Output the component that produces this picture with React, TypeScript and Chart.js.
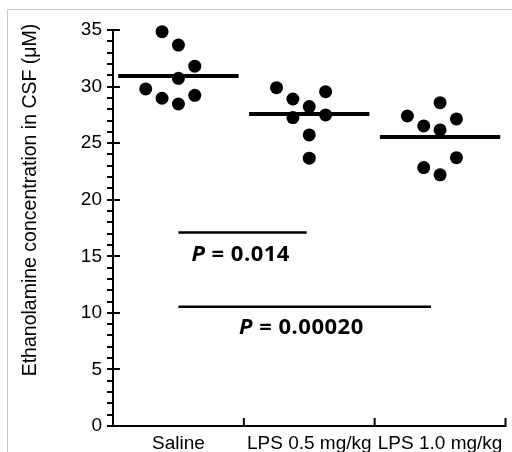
import React, { useEffect, useRef } from 'react';
import { Chart, registerables } from 'chart.js';

Chart.register(...registerables);

// ---- data ----
const categories = ['Saline', 'LPS 0.5 mg/kg', 'LPS 1.0 mg/kg'];
const salineValues = [34.85, 33.67, 31.8, 30.73, 29.79, 29.23, 28.97, 28.46];
const lps05Values = [29.9, 28.9, 29.55, 28.23, 27.26, 27.49, 25.73, 23.67];
const lps10Values = [27.4, 28.58, 26.52, 27.14, 26.17, 23.72, 22.84, 22.2];
// column slot of each dot inside its group (dot-plot spreading)
const salineSlots = [-1, 0, 1, 0, -2, 1, -1, 0];
const lps05Slots = [-2, -1, 1, 0, -1, 1, 0, 0];
const lps10Slots = [-2, 0, -1, 1, 0, 1, -1, 0];
const groupMeans = [30.94, 27.58, 25.55];
const yTickValues = [0, 5, 10, 15, 20, 25, 30, 35];
const pValues = ['0.014', '0.00020'];
const pBarLevels = [17.1, 10.55];
const pBarStart = [0, 0];
const pBarEnd = [0.98, 1.93];

const yTitle = 'Ethanolamine concentration in CSF (\u03BCM)';

// ---- layout constants (not data) ----
const SLOT = 0.125;
const MEAN_HALF = 0.46;
const P_TEXT_X = [0.476, 0.94];
const P_TEXT_Y = [15.11, 8.66];

const groups = [
  { values: salineValues, slots: salineSlots },
  { values: lps05Values, slots: lps05Slots },
  { values: lps10Values, slots: lps10Slots },
];

const decorPlugin = {
  id: 'decor',
  beforeDraw(chart: any) {
    const ctx = chart.ctx;
    ctx.save();
    ctx.strokeStyle = '#c8c8c8';
    ctx.lineWidth = 1;
    ctx.beginPath();
    ctx.moveTo(7.5, 452);
    ctx.lineTo(7.5, 9.5);
    ctx.lineTo(512, 9.5);
    ctx.stroke();
    ctx.restore();
  },
  afterDraw(chart: any) {
    const ctx = chart.ctx;
    const xs = chart.scales.x;
    const ys = chart.scales.y;
    const left = chart.chartArea.left;
    const bottom = chart.chartArea.bottom;
    ctx.save();
    ctx.strokeStyle = '#000';
    ctx.lineWidth = 2;
    ctx.lineCap = 'butt';
    // y minor / major ticks
    for (let v = 0; v <= 35; v++) {
      const py = Math.round(ys.getPixelForValue(v));
      ctx.beginPath();
      if (yTickValues.includes(v)) {
        ctx.moveTo(left - 6, py);
        ctx.lineTo(left + 7, py);
      } else {
        ctx.moveTo(left - 6, py);
        ctx.lineTo(left, py);
      }
      ctx.stroke();
    }
    // x boundary ticks (pointing up)
    for (let i = 0; i < categories.length; i++) {
      const px = xs.getPixelForValue(i + 0.5);
      ctx.beginPath();
      ctx.moveTo(px, bottom + 1);
      ctx.lineTo(px, bottom - 8);
      ctx.stroke();
    }
    // P value texts
    ctx.fillStyle = '#000';
    ctx.textBaseline = 'middle';
    ctx.textAlign = 'left';
    try {
      (ctx as any).letterSpacing = '0.5px';
    } catch (e) {}
    for (let i = 0; i < pValues.length; i++) {
      const cx = xs.getPixelForValue(P_TEXT_X[i]);
      const cy = ys.getPixelForValue(P_TEXT_Y[i]);
      const italicFont = 'italic bold 22px "Open Sans"';
      const boldFont = 'bold 22px "Open Sans"';
      ctx.font = italicFont;
      const w1 = ctx.measureText('P').width;
      ctx.font = boldFont;
      const rest = ' = ' + pValues[i];
      const w2 = ctx.measureText(rest).width;
      const x0 = cx - (w1 + w2) / 2;
      ctx.font = italicFont;
      ctx.fillText('P', x0, cy);
      ctx.font = boldFont;
      ctx.fillText(rest, x0 + w1, cy);
    }
    try {
      (ctx as any).letterSpacing = '0px';
    } catch (e) {}
    // y title
    ctx.translate(31, 200);
    ctx.rotate(-Math.PI / 2);
    ctx.textAlign = 'center';
    ctx.textBaseline = 'middle';
    ctx.font = '19.5px "Liberation Sans", Arial, sans-serif';
    ctx.fillText(yTitle, 0, 0);
    ctx.restore();
  },
};

export default function App() {
  const canvasRef = useRef<HTMLCanvasElement | null>(null);

  useEffect(() => {
    const prevMargin = document.body.style.margin;
    document.body.style.margin = '0';
    const canvas = canvasRef.current;
    if (!canvas) return;

    const datasets: any[] = [];
    groups.forEach((g, gi) => {
      datasets.push({
        label: categories[gi],
        data: g.values.map((v, k) => ({ x: gi + g.slots[k] * SLOT, y: v })),
        backgroundColor: '#000',
        borderColor: '#000',
        borderWidth: 0,
        pointRadius: 6.5,
        pointHoverRadius: 6.5,
        showLine: false,
        clip: false,
      });
    });
    groupMeans.forEach((m, gi) => {
      datasets.push({
        label: 'mean ' + categories[gi],
        data: [
          { x: gi - MEAN_HALF, y: m },
          { x: gi + MEAN_HALF, y: m },
        ],
        borderColor: '#000',
        borderWidth: 4,
        pointRadius: 0,
        showLine: true,
        borderCapStyle: 'butt',
        clip: false,
      });
    });
    pBarLevels.forEach((lvl, i) => {
      datasets.push({
        label: 'P bar ' + i,
        data: [
          { x: pBarStart[i], y: lvl },
          { x: pBarEnd[i], y: lvl },
        ],
        borderColor: '#000',
        borderWidth: 2.5,
        pointRadius: 0,
        showLine: true,
        borderCapStyle: 'butt',
        clip: false,
      });
    });

    const chart = new Chart(canvas, {
      type: 'scatter',
      data: { datasets },
      options: {
        animation: false,
        responsive: false,
        devicePixelRatio: 1,
        events: [],
        layout: { padding: { top: 30, right: 3, left: 0, bottom: 0 } },
        plugins: {
          legend: { display: false },
          tooltip: { enabled: false },
        },
        scales: {
          x: {
            type: 'linear',
            min: -0.5,
            max: 2.5,
            afterFit: (s: any) => {
              s.height = 26;
            },
            afterBuildTicks: (s: any) => {
              s.ticks = categories.map((_, i) => ({ value: i }));
            },
            grid: { display: false, drawTicks: false },
            border: { display: true, color: '#000', width: 2 },
            ticks: {
              autoSkip: false,
              maxRotation: 0,
              padding: 6,
              color: '#000',
              font: { family: '"Liberation Sans", Arial, sans-serif', size: 19 },
              callback: (v: any) => categories[Math.round(Number(v))] ?? '',
            },
          },
          y: {
            type: 'linear',
            min: 0,
            max: 35,
            afterFit: (s: any) => {
              s.width = 113;
            },
            afterBuildTicks: (s: any) => {
              s.ticks = yTickValues.map((v) => ({ value: v }));
            },
            grid: { display: false, drawTicks: false },
            border: { display: true, color: '#000', width: 2 },
            ticks: {
              padding: 11,
              color: '#000',
              font: { family: '"Liberation Sans", Arial, sans-serif', size: 19 },
            },
          },
        },
      },
      plugins: [decorPlugin],
    });

    return () => {
      chart.destroy();
      document.body.style.margin = prevMargin;
    };
  }, []);

  return (
    <div style={{ position: 'absolute', left: 0, top: 0, width: 512, height: 452, background: '#fff' }}>
      <canvas ref={canvasRef} width={512} height={452} style={{ width: 512, height: 452, display: 'block' }} />
    </div>
  );
}
